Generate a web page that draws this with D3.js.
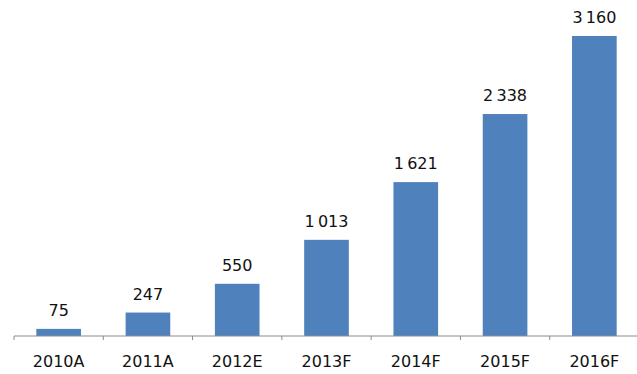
<!DOCTYPE html>
<html lang="en">
  <head>
    <meta charset="UTF-8">
    <title>Bar chart 2010A-2016F</title>
    <script src="https://d3js.org/d3.v7.min.js"></script>
    <style>
      body { margin: 0; background: #fff; }
      text { font-family: "DejaVu Sans", Verdana, sans-serif; fill: #111; }
    </style>
  </head>
  <body>
    <script>
      const categories = ["2010A", "2011A", "2012E", "2013F", "2014F", "2015F", "2016F"];
      const values = [75, 247, 550, 1013, 1621, 2338, 3160];

      const w = 637;
      const h = 374;
      const left = 14;
      const right = 639;
      const base = 336;

      const fmt = d3.formatLocale({ decimal: ",", thousands: "\u2009", grouping: [3], currency: ["", ""] }).format(",d");

      const svg = d3.select("body")
        .append("svg")
        .attr("width", w)
        .attr("height", h);

      const x = d3.scaleBand()
        .domain(categories)
        .range([left, right])
        .paddingInner(0.5)
        .paddingOuter(0.25);

      const y = d3.scaleLinear()
        .domain([0, 3500])
        .range([base, base - 300 / 3160 * 3500]);

      svg.selectAll("rect.bar")
        .data(values)
        .enter()
        .append("rect")
        .attr("class", "bar")
        .attr("x", (d, i) => x(categories[i]))
        .attr("width", x.bandwidth())
        .attr("y", d => y(d))
        .attr("height", d => base - y(d))
        .attr("fill", "#4f81bd");

      svg.selectAll("text.val")
        .data(values)
        .enter()
        .append("text")
        .attr("class", "val")
        .attr("x", (d, i) => x(categories[i]) + x.bandwidth() / 2)
        .attr("y", d => y(d) - 13)
        .attr("text-anchor", "middle")
        .style("font-size", "16px")
        .text(d => fmt(d));

      // x axis: ticks sit between categories
      const axisG = svg.append("g")
        .attr("transform", `translate(0,${base})`);

      axisG.append("line")
        .attr("x1", left)
        .attr("x2", right)
        .attr("stroke", "#8c8c8c");

      const edges = d3.range(categories.length + 1).map(i => left + i * (right - left) / categories.length);
      axisG.selectAll("line.tick")
        .data(edges)
        .enter()
        .append("line")
        .attr("class", "tick")
        .attr("x1", d => d)
        .attr("x2", d => d)
        .attr("y1", 0)
        .attr("y2", 4)
        .attr("stroke", "#8c8c8c");

      axisG.selectAll("text.cat")
        .data(categories)
        .enter()
        .append("text")
        .attr("class", "cat")
        .attr("x", d => x(d) + x.bandwidth() / 2)
        .attr("y", 31)
        .attr("text-anchor", "middle")
        .style("font-size", "16px")
        .text(d => d);
    </script>
  </body>
</html>
